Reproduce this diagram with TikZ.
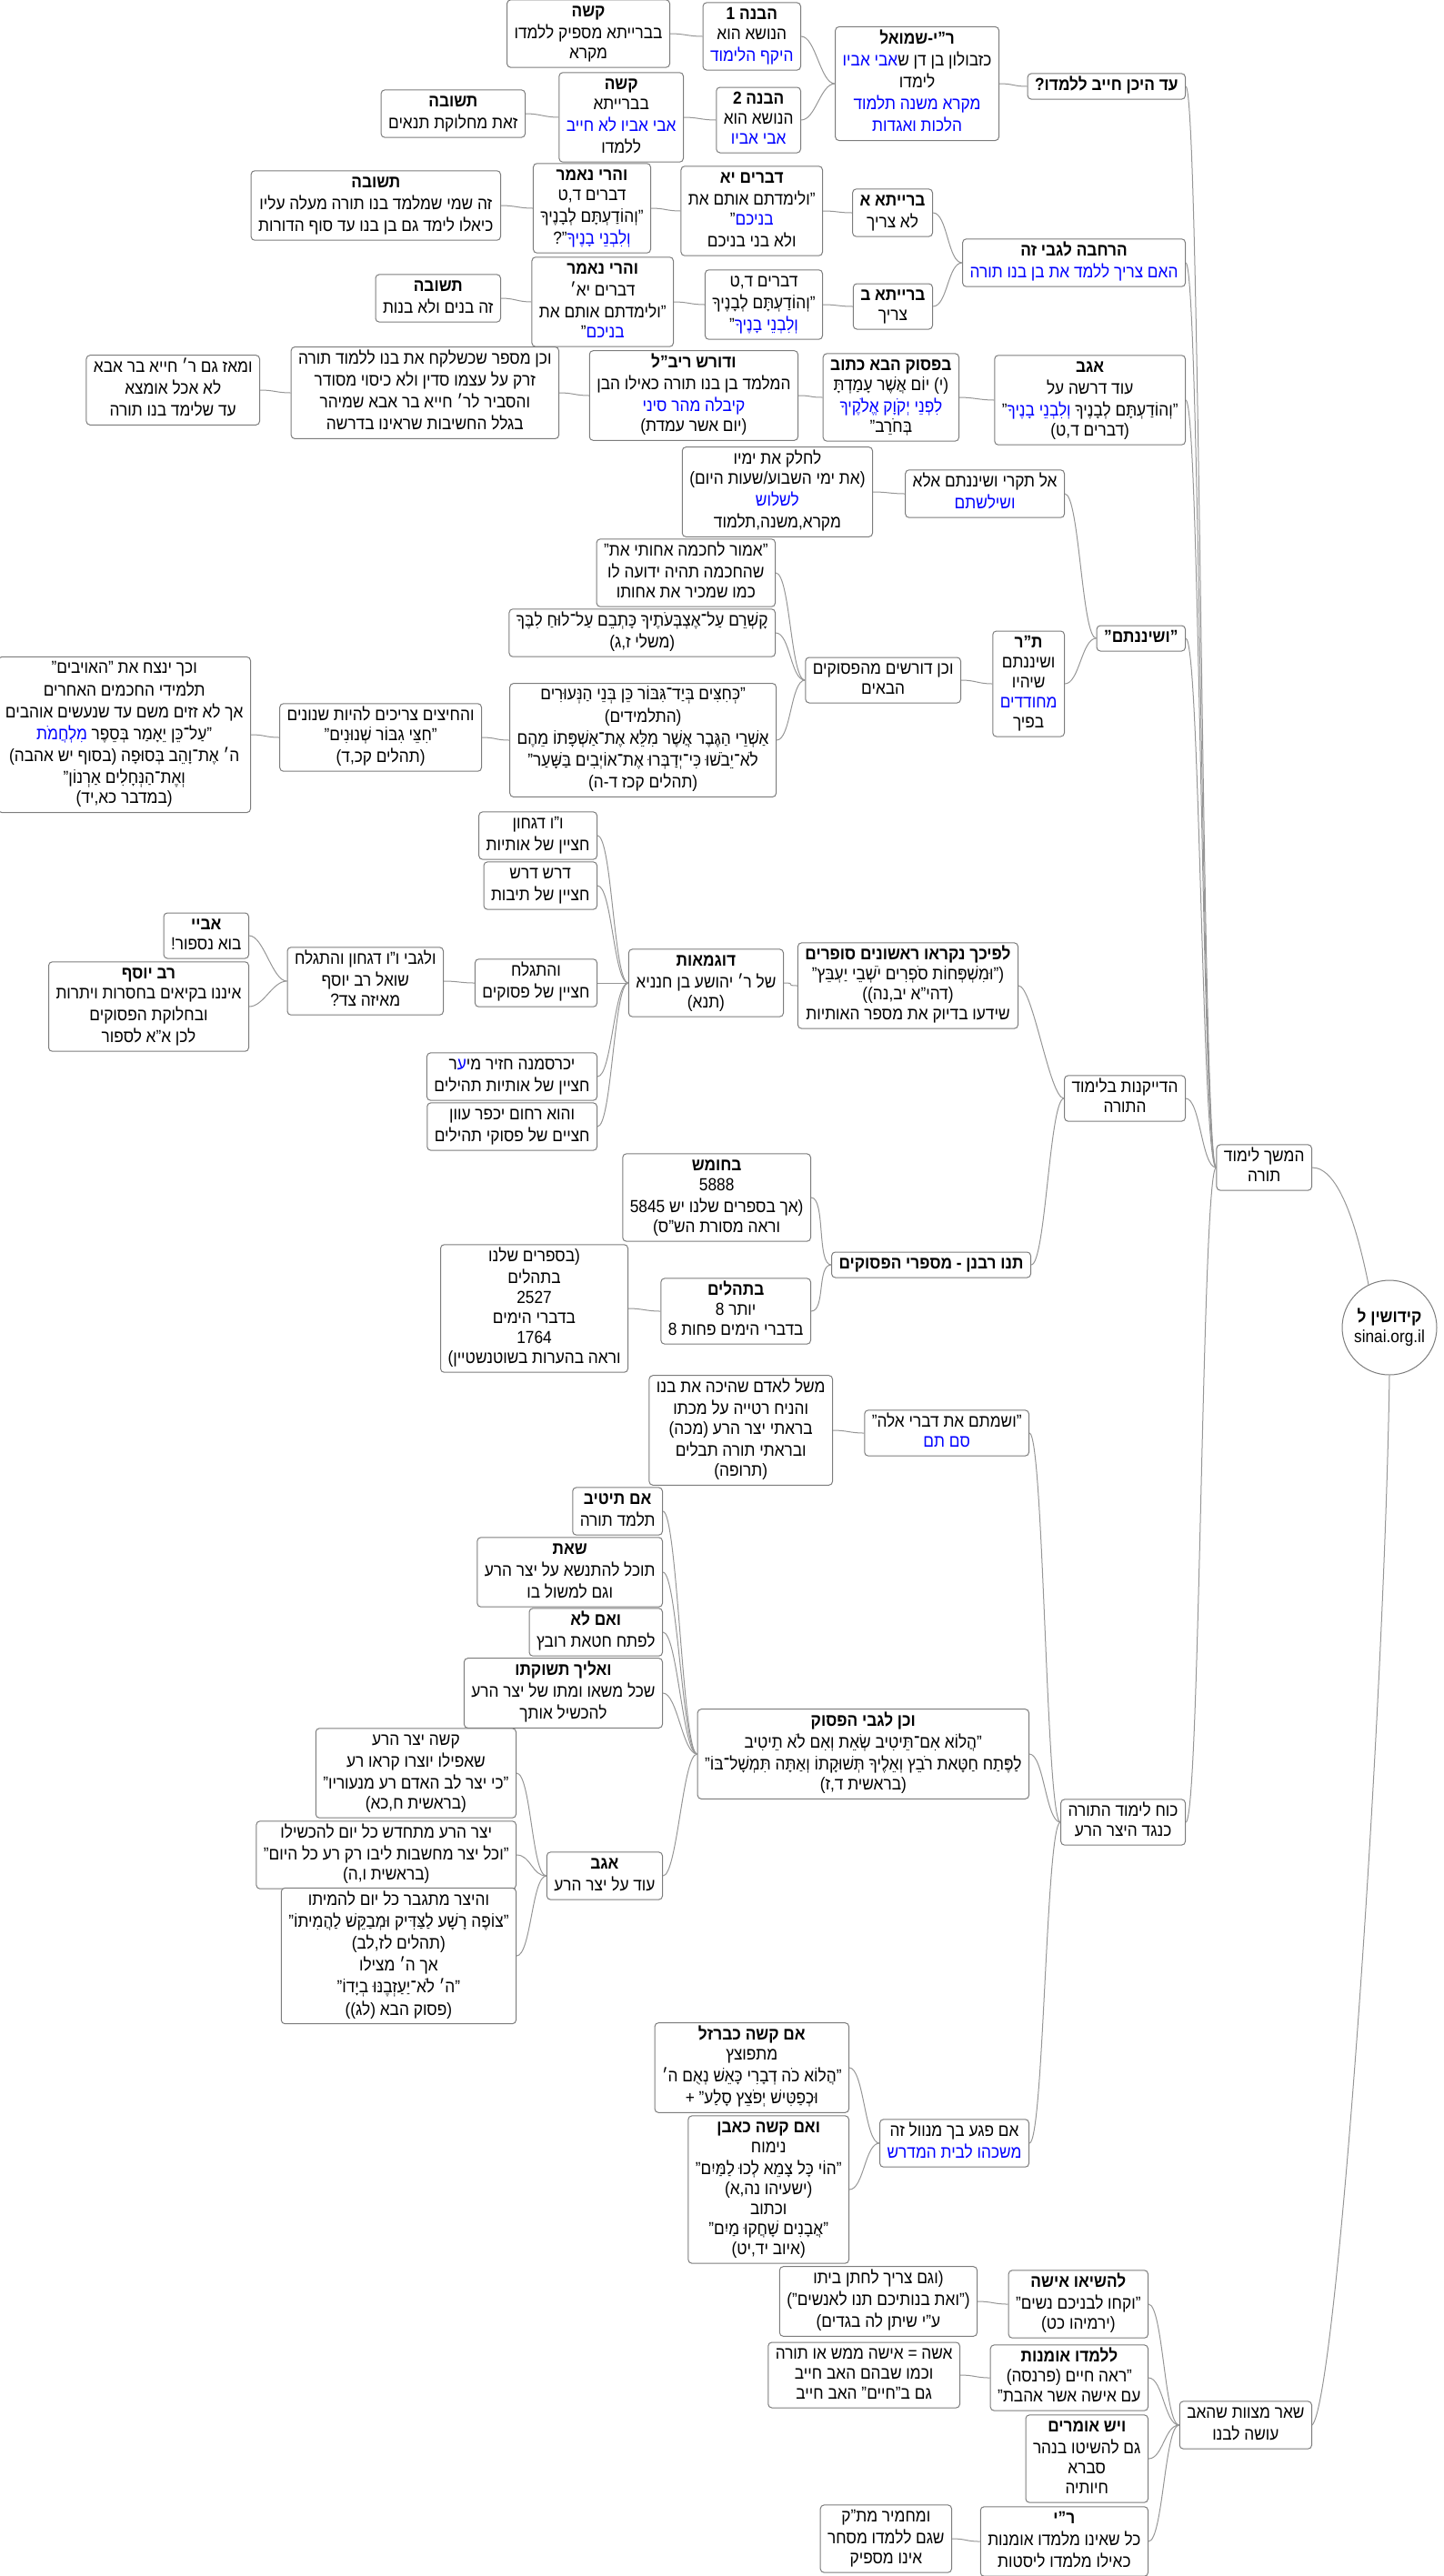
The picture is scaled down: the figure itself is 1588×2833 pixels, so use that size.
\documentclass[tikz,border=0pt]{standalone}
\usepackage{fontspec}
\setmainfont{Liberation Sans}[Script=Hebrew, FakeStretch=0.9]
\TeXXeTstate=1
\definecolor{boxgray}{RGB}{125,125,125}
\definecolor{linegray}{RGB}{150,150,150}
% one right-to-left line, a bold one, a blue run (font colour, no specials)
\newcommand{\rl}[1]{\beginR\strut#1\endR}
\newcommand{\hd}[1]{\rl{\bfseries#1}}
\newcommand{\bl}[1]{{\addfontfeatures{Color=0000FF}#1}}
\begin{document}
\begin{tikzpicture}[x=0.5pt, y=-0.5pt, font=\fontsize{9.6}{11}\selectfont,
		box/.style={draw=boxgray, fill=white, rounded corners=2pt, line width=0.5pt,
			align=center, inner xsep=4pt, inner ysep=1.5pt, anchor=east},
		hub/.style={circle, draw=boxgray, fill=white, line width=0.5pt, align=center,
			minimum size=52pt, inner sep=1pt},
		link/.style={draw=linegray, line width=0.5pt,
			to path={.. controls +(-16,0) and +(16,0) .. (\tikztotarget) \tikztonodes}}]
	\useasboundingbox (0,0) rectangle (1588,2833);
	% root and its two branches
	\node[hub] (root) at (1528,1460) {\hd{קידושין ל}\\ sinai.org.il};
	\node[box] (hemshech) at (1443,1284) {\rl{המשך לימוד}\\ \rl{תורה}};
	\node[box] (shear) at (1443,2667) {\rl{שאר מצוות שהאב}\\ \rl{עושה לבנו}};
	% first level under hemshech
	\node[box] (adheikhan) at (1304,95) {\hd{עד היכן חייב ללמדו?}};
	\node[box] (harchava) at (1304,289) {\hd{הרחבה לגבי זה}\\ \rl{\bl{האם צריך ללמד את בן בנו תורה}}};
	\node[box] (agav1) at (1304,440) {\hd{אגב}\\ \rl{עוד דרשה על}\\
		\rl{"וְהוֹדַעְתָּם לְבָנֶיךָ \bl{וְלִבְנֵי בָנֶיךָ}"}\\ \rl{(דברים ד,ט)}};
	\node[box] (veshinantem) at (1304,702) {\hd{"ושיננתם"}};
	\node[box] (hadaikanut) at (1304,1208) {\rl{הדייקנות בלימוד}\\ \rl{התורה}};
	\node[box] (kowach) at (1304,2004) {\rl{כוח לימוד התורה}\\ \rl{כנגד היצר הרע}};
	% how far must he teach
	\node[box] (rys) at (1099,92) {\hd{ר"י-שמואל}\\ \rl{כזבולון בן דן ש\bl{אבי אביו}}\\ \rl{לימדו}\\
		\rl{\bl{מקרא משנה תלמוד}}\\ \rl{\bl{הלכות ואגדות}}};
	\node[box] (havana1) at (881,40) {\hd{הבנה 1}\\ \rl{הנושא הוא}\\ \rl{\bl{היקף הלימוד}}};
	\node[box] (havana2) at (881,132) {\hd{הבנה 2}\\ \rl{הנושא הוא}\\ \rl{\bl{אבי אביו}}};
	\node[box] (qashe1) at (737,37) {\hd{קשה}\\ \rl{בברייתא מספיק ללמדו}\\ \rl{מקרא}};
	\node[box] (qashe2) at (752,129) {\hd{קשה}\\ \rl{בברייתא}\\ \rl{\bl{אבי אביו לא חייב}}\\ \rl{ללמדו}};
	\node[box] (tshuva1) at (578,125) {\hd{תשובה}\\ \rl{זאת מחלוקת תנאים}};
	% the two baraitot
	\node[box] (braitaA) at (1026,234) {\hd{ברייתא א}\\ \rl{לא צריך}};
	\node[box] (braitaB) at (1026,337) {\hd{ברייתא ב}\\ \rl{צריך}};
	\node[box] (dvarimYA) at (905,232) {\hd{דברים יא}\\ \rl{"ולימדתם אותם את}\\ \rl{\bl{בניכם}"}\\ \rl{ולא בני בניכם}};
	\node[box] (dvarimDT) at (905,335) {\rl{דברים ד,ט}\\ \rl{"וְהוֹדַעְתָּם לְבָנֶיךָ}\\ \rl{\bl{וְלִבְנֵי בָנֶיךָ}"}};
	\node[box] (vaharei1) at (716,229) {\hd{והרי נאמר}\\ \rl{דברים ד,ט}\\ \rl{"וְהוֹדַעְתָּם לְבָנֶיךָ}\\ \rl{\bl{וְלִבְנֵי בָנֶיךָ}"?}};
	\node[box] (vaharei2) at (741,332) {\hd{והרי נאמר}\\ \rl{דברים יא׳}\\ \rl{"ולימדתם אותם את}\\ \rl{\bl{בניכם}"}};
	\node[box] (tshuva2) at (551,226) {\hd{תשובה}\\ \rl{זה שמי שמלמד בנו תורה מעלה עליו}\\ \rl{כיאלו לימד גם בן בנו עד סוף הדורות}};
	\node[box] (tshuva3) at (551,328) {\hd{תשובה}\\ \rl{זה בנים ולא בנות}};
	% agav chain
	\node[box] (bapasuk) at (1055,437) {\hd{בפסוק הבא כתוב}\\ \rl{(י) יוֹם אֲשֶׁר עָמַדְתָּ}\\
		\rl{\bl{לִפְנֵי יְקֹוָק אֱלֹקֶיךָ}}\\ \rl{בְּחֹרֵב"}};
	\node[box] (vedoresh) at (878,435) {\hd{ודורש ריב"ל}\\ \rl{המלמד בן בנו תורה כאילו הבן}\\
		\rl{\bl{קיבלה מהר סיני}}\\ \rl{(יום אשר עמדת)}};
	\node[box] (vechenmesaper) at (615,432) {\rl{וכן מספר שכשלקח את בנו ללמוד תורה}\\
		\rl{זרק על עצמו סדין ולא כיסוי מסודר}\\ \rl{והסביר לר׳ חייא בר אבא שמיהר}\\ \rl{בגלל החשיבות שראינו בדרשה}};
	\node[box] (umeaz) at (286,429) {\rl{ומאז גם ר׳ חייא בר אבא}\\ \rl{לא אכל אומצא}\\ \rl{עד שלימד בנו תורה}};
	% veshinantem
	\node[box] (altikrei) at (1171,543) {\rl{אל תקרי ושיננתם אלא}\\ \rl{\bl{ושילשתם}}};
	\node[box] (lechalek) at (960,541) {\rl{לחלק את ימיו}\\ \rl{(את ימי השבוע/שעות היום)}\\
		\rl{\bl{לשלוש}}\\ \rl{מקרא,משנה,תלמוד}};
	\node[box] (tr) at (1171,752) {\hd{ת"ר}\\ \rl{ושיננתם}\\ \rl{שיהיו}\\ \rl{\bl{מחודדים}}\\ \rl{בפיך}};
	\node[box] (vechendorshim) at (1057,748) {\rl{וכן דורשים מהפסוקים}\\ \rl{הבאים}};
	\node[box] (emor) at (853,630) {\rl{"אמור לחכמה אחותי את"}\\ \rl{שהחכמה תהיה ידועה לו}\\ \rl{כמו שמכיר את אחותו}};
	\node[box] (kashrem) at (853,696) {\rl{קָשְׁרֵם עַל־אֶצְבְּעֹתֶיךָ כָּתְבֵם עַל־לוּחַ לִבֶּךָ}\\ \rl{(משלי ז,ג)}};
	\node[box] (kachitsim) at (854,814) {\rl{"כְּחִצִּים בְּיַד־גִּבּוֹר כֵּן בְּנֵי הַנְּעוּרִים}\\ \rl{(התלמידים)}\\
		\rl{אַשְׁרֵי הַגֶּבֶר אֲשֶׁר מִלֵּא אֶת־אַשְׁפָּתוֹ מֵהֶם}\\
		\rl{לֹא־יֵבֹשׁוּ כִּי־יְדַבְּרוּ אֶת־אוֹיְבִים בַּשָּׁעַר"}\\ \rl{(תהלים קכז ד-ה)}};
	\node[box] (vehachitsim) at (530,811) {\rl{והחיצים צריכים להיות שנונים}\\ \rl{"חִצֵּי גִבּוֹר שְׁנוּנִים"}\\ \rl{(תהלים קכ,ד)}};
	\node[box] (vechach) at (276,808) {\rl{וכך ינצח את "האויבים"}\\ \rl{תלמידי החכמים האחרים}\\
		\rl{אך לא זזים משם עד שנעשים אוהבים}\\ \rl{"עַל־כֵּן יֵאָמַר בְּסֵפֶר \bl{מִלְחֲמֹת}}\\
		\rl{ה׳ אֶת־וָהֵב בְּסוּפָה (בסוף יש אהבה)}\\ \rl{וְאֶת־הַנְּחָלִים אַרְנוֹן"}\\ \rl{(במדבר כא,יד)}};
	% counting letters
	\node[box] (lefichach) at (1120,1084) {\hd{לפיכך נקראו ראשונים סופרים}\\
		\rl{("וּמִשְׁפְּחוֹת סֹפְרִים יֹשְׁבֵי יַעְבֵּץ"}\\ \rl{(דהי"א יב,נה))}\\ \rl{שידעו בדיוק את מספר האותיות}};
	\node[box] (dugmaot) at (862,1081) {\hd{דוגמאות}\\ \rl{של ר׳ יהושע בן חנניא}\\ \rl{(תנא)}};
	\node[box] (vav1) at (657,919) {\rl{ו"ו דגחון}\\ \rl{חציין של אותיות}};
	\node[box] (darash) at (657,974) {\rl{דרש דרש}\\ \rl{חציין של תיבות}};
	\node[box] (vehitgaleach) at (657,1081) {\rl{והתגלח}\\ \rl{חציין של פסוקים}};
	\node[box] (yechars) at (657,1184) {\rl{יכרסמנה חזיר מי\bl{ע}ר}\\ \rl{חציין של אותיות תהילים}};
	\node[box] (vehurachum) at (657,1239) {\rl{והוא רחום יכפר עוון}\\ \rl{חציים של פסוקי תהילים}};
	\node[box] (velegabei) at (488,1079) {\rl{ולגבי ו"ו דגחון והתגלח}\\ \rl{שואל רב יוסף}\\ \rl{מאיזה צד?}};
	\node[box] (abaye) at (274,1029) {\hd{אביי}\\ \rl{בוא נספור!}};
	\node[box] (ravyosef) at (274,1107) {\hd{רב יוסף}\\ \rl{איננו בקיאים בחסרות ויתרות}\\
		\rl{ובחלוקת הפסוקים}\\ \rl{לכן א"א לספור}};
	\node[box] (tanurabanan) at (1134,1391) {\hd{תנו רבנן - מספרי הפסוקים}};
	\node[box] (bechumash) at (892,1317) {\hd{בחומש}\\ \rl{5888}\\ \rl{(אך בספרים שלנו יש 5845}\\ \rl{וראה מסורת הש"ס)}};
	\node[box] (betehilim) at (892,1442) {\hd{בתהלים}\\ \rl{יותר 8}\\ \rl{בדברי הימים פחות 8}};
	\node[box] (besfarim) at (691,1439) {\rl{(בספרים שלנו}\\ \rl{בתהלים}\\ \rl{2527}\\ \rl{בדברי הימים}\\
		\rl{1764}\\ \rl{וראה בהערות בשוטנשטיין)}};
	% torah against the evil inclination
	\node[box] (vesamtem) at (1132,1576) {\rl{"ושמתם את דברי אלה"}\\ \rl{\bl{סם תם}}};
	\node[box] (mashal) at (916,1573) {\rl{משל לאדם שהיכה את בנו}\\ \rl{והניח רטייה על מכתו}\\
		\rl{בראתי יצר הרע (מכה)}\\ \rl{ובראתי תורה תבלים}\\ \rl{(תרופה)}};
	\node[box] (vechenlegabei) at (1132,1929) {\hd{וכן לגבי הפסוק}\\
		\rl{"הֲלוֹא אִם־תֵּיטִיב שְׂאֵת וְאִם לֹא תֵיטִיב}\\
		\rl{לַפֶּתַח חַטָּאת רֹבֵץ וְאֵלֶיךָ תְּשׁוּקָתוֹ וְאַתָּה תִּמְשָׁל־בּוֹ"}\\ \rl{(בראשית ד,ז)}};
	\node[box] (imteitiv) at (729,1662) {\hd{אם תיטיב}\\ \rl{תלמד תורה}};
	\node[box] (seet) at (729,1729) {\hd{שאת}\\ \rl{תוכל להתנשא על יצר הרע}\\ \rl{וגם למשול בו}};
	\node[box] (veimlo) at (729,1795) {\hd{ואם לא}\\ \rl{לפתח חטאת רובץ}};
	\node[box] (veelecha) at (729,1862) {\hd{ואליך תשוקתו}\\ \rl{שכל משאו ומתו של יצר הרע}\\ \rl{להכשיל אותך}};
	\node[box] (agav2) at (729,2063) {\hd{אגב}\\ \rl{עוד על יצר הרע}};
	\node[box] (kasheYetser) at (568,1950) {\rl{קשה יצר הרע}\\ \rl{שאפילו יוצרו קראו רע}\\
		\rl{"כי יצר לב האדם רע מנעוריו"}\\ \rl{(בראשית ח,כא)}};
	\node[box] (mitchadesh) at (568,2040) {\rl{יצר הרע מתחדש כל יום להכשילו}\\
		\rl{"וכל יצר מחשבות ליבו רק רע כל היום"}\\ \rl{(בראשית ו,ה)}};
	\node[box] (mitgaber) at (568,2151) {\rl{והיצר מתגבר כל יום להמיתו}\\
		\rl{"צוֹפֶה רָשָׁע לַצַּדִּיק וּמְבַקֵּשׁ לַהֲמִיתוֹ"}\\ \rl{(תהלים לז,לב)}\\ \rl{אך ה׳ מצילו}\\
		\rl{"ה׳ לֹא־יַעַזְבֶנּוּ בְיָדוֹ"}\\ \rl{(פסוק הבא (לג))}};
	\node[box] (pagaa) at (1132,2357) {\rl{אם פגע בך מנוול זה}\\ \rl{\bl{משכהו לבית המדרש}}};
	\node[box] (barzel) at (934,2274) {\hd{אם קשה כברזל}\\ \rl{מתפוצץ}\\
		\rl{"הֲלוֹא כֹה דְבָרִי כָּאֵשׁ נְאֻם ה׳}\\ \rl{וּכְפַטִּישׁ יְפֹצֵץ סָלַע" +}};
	\node[box] (even) at (934,2408) {\hd{ואם קשה כאבן}\\ \rl{נימוח}\\ \rl{"הוֹי כָּל צָמֵא לְכוּ לַמַּיִם"}\\
		\rl{(ישעיהו נה,א)}\\ \rl{וכתוב}\\ \rl{"אֲבָנִים שָׁחֲקוּ מַיִם"}\\ \rl{(איוב יד,יט)}};
	% other duties of the father
	\node[box] (lehasio) at (1263,2534) {\hd{להשיאו אישה}\\ \rl{"וקחו לבניכם נשים"}\\ \rl{(ירמיהו כט)}};
	\node[box] (vegam) at (1075,2531) {\rl{(וגם צריך לחתן ביתו}\\ \rl{("ואת בנותיכם תנו לאנשים")}\\ \rl{ע"י שיתן לה בגדים)}};
	\node[box] (lelamdo) at (1263,2615) {\hd{ללמדו אומנות}\\ \rl{"ראה חיים (פרנסה)}\\ \rl{עם אישה אשר אהבת"}};
	\node[box] (isha) at (1056,2612) {\rl{אשה = אישה ממש או תורה}\\ \rl{וכמו שבהם האב חייב}\\ \rl{גם ב"חיים" האב חייב}};
	\node[box] (veyesh) at (1263,2704) {\hd{ויש אומרים}\\ \rl{גם להשיטו בנהר}\\ \rl{סברא}\\ \rl{חיותיה}};
	\node[box] (ryi) at (1263,2795) {\hd{ר"י}\\ \rl{כל שאינו מלמדו אומנות}\\ \rl{כאילו מלמדו ליסטות}};
	\node[box] (machmir) at (1047,2792) {\rl{ומחמיר מת"ק}\\ \rl{שגם ללמדו מסחר}\\ \rl{אינו מספיק}};
	% connectors
	\draw[draw=linegray, line width=0.5pt] (root.116) .. controls +(-12,-60) and +(30,0) .. (hemshech.east);
	\draw[draw=linegray, line width=0.5pt] (root.south) .. controls (1522,1900) and (1470,2640) .. (shear.east);
	\draw[link] (hemshech.west) to (adheikhan.east);
	\draw[link] (hemshech.west) to (harchava.east);
	\draw[link] (hemshech.west) to (agav1.east);
	\draw[link] (hemshech.west) to (veshinantem.east);
	\draw[link] (hemshech.west) to (hadaikanut.east);
	\draw[link] (hemshech.west) to (kowach.east);
	\draw[link] (adheikhan.west) to (rys.east);
	\draw[link] (rys.west) to (havana1.east);
	\draw[link] (rys.west) to (havana2.east);
	\draw[link] (havana1.west) to (qashe1.east);
	\draw[link] (havana2.west) to (qashe2.east);
	\draw[link] (qashe2.west) to (tshuva1.east);
	\draw[link] (harchava.west) to (braitaA.east);
	\draw[link] (harchava.west) to (braitaB.east);
	\draw[link] (braitaA.west) to (dvarimYA.east);
	\draw[link] (dvarimYA.west) to (vaharei1.east);
	\draw[link] (vaharei1.west) to (tshuva2.east);
	\draw[link] (braitaB.west) to (dvarimDT.east);
	\draw[link] (dvarimDT.west) to (vaharei2.east);
	\draw[link] (vaharei2.west) to (tshuva3.east);
	\draw[link] (agav1.west) to (bapasuk.east);
	\draw[link] (bapasuk.west) to (vedoresh.east);
	\draw[link] (vedoresh.west) to (vechenmesaper.east);
	\draw[link] (vechenmesaper.west) to (umeaz.east);
	\draw[link] (veshinantem.west) to (altikrei.east);
	\draw[link] (veshinantem.west) to (tr.east);
	\draw[link] (altikrei.west) to (lechalek.east);
	\draw[link] (tr.west) to (vechendorshim.east);
	\draw[link] (vechendorshim.west) to (emor.east);
	\draw[link] (vechendorshim.west) to (kashrem.east);
	\draw[link] (vechendorshim.west) to (kachitsim.east);
	\draw[link] (kachitsim.west) to (vehachitsim.east);
	\draw[link] (vehachitsim.west) to (vechach.east);
	\draw[link] (hadaikanut.west) to (lefichach.east);
	\draw[link] (hadaikanut.west) to (tanurabanan.east);
	\draw[link] (lefichach.west) to (dugmaot.east);
	\draw[link] (dugmaot.west) to (vav1.east);
	\draw[link] (dugmaot.west) to (darash.east);
	\draw[link] (dugmaot.west) to (vehitgaleach.east);
	\draw[link] (dugmaot.west) to (yechars.east);
	\draw[link] (dugmaot.west) to (vehurachum.east);
	\draw[link] (vehitgaleach.west) to (velegabei.east);
	\draw[link] (velegabei.west) to (abaye.east);
	\draw[link] (velegabei.west) to (ravyosef.east);
	\draw[link] (tanurabanan.west) to (bechumash.east);
	\draw[link] (tanurabanan.west) to (betehilim.east);
	\draw[link] (betehilim.west) to (besfarim.east);
	\draw[link] (kowach.west) to (vesamtem.east);
	\draw[link] (kowach.west) to (vechenlegabei.east);
	\draw[link] (kowach.west) to (pagaa.east);
	\draw[link] (vesamtem.west) to (mashal.east);
	\draw[link] (vechenlegabei.west) to (imteitiv.east);
	\draw[link] (vechenlegabei.west) to (seet.east);
	\draw[link] (vechenlegabei.west) to (veimlo.east);
	\draw[link] (vechenlegabei.west) to (veelecha.east);
	\draw[link] (vechenlegabei.west) to (agav2.east);
	\draw[link] (agav2.west) to (kasheYetser.east);
	\draw[link] (agav2.west) to (mitchadesh.east);
	\draw[link] (agav2.west) to (mitgaber.east);
	\draw[link] (pagaa.west) to (barzel.east);
	\draw[link] (pagaa.west) to (even.east);
	\draw[link] (shear.west) to (lehasio.east);
	\draw[link] (shear.west) to (lelamdo.east);
	\draw[link] (shear.west) to (veyesh.east);
	\draw[link] (shear.west) to (ryi.east);
	\draw[link] (lehasio.west) to (vegam.east);
	\draw[link] (lelamdo.west) to (isha.east);
	\draw[link] (ryi.west) to (machmir.east);
\end{tikzpicture}
\end{document}
